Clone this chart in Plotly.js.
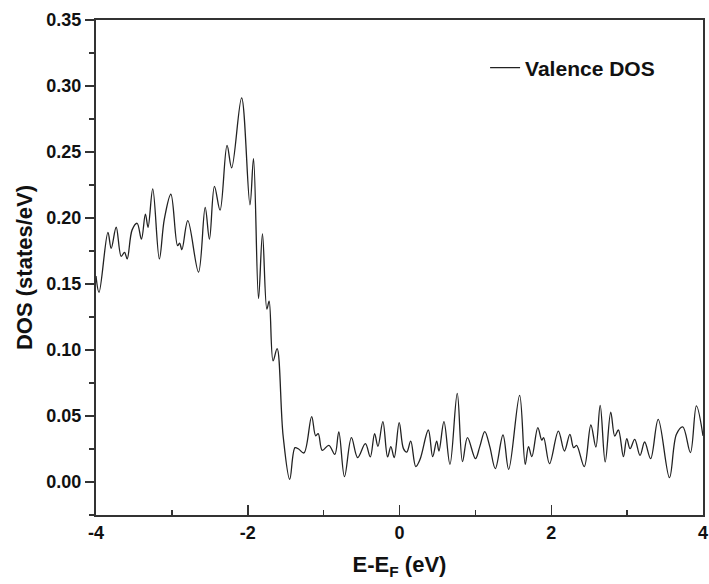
<!DOCTYPE html>
<html>
<head>
<meta charset="utf-8">
<script src="https://cdn.plot.ly/plotly-3.0.1.min.js"></script>
<style>html,body{margin:0;padding:0;background:#fff;}#chart{width:709px;height:584px;}</style>
</head>
<body>
<div id="chart"></div>
<script>
const energy = [-4.0, -3.96, -3.843, -3.80, -3.734, -3.668, -3.624, -3.589, -3.524, -3.458,
  -3.401, -3.349, -3.314, -3.252, -3.165, -3.10, -3.013, -2.925, -2.898, -2.868,
  -2.79, -2.649, -2.561, -2.505, -2.439, -2.365, -2.273, -2.212, -2.081, -1.971,
  -1.924, -1.858, -1.806, -1.748, -1.718, -1.666, -1.613, -1.534, -1.447, -1.377,
  -1.33, -1.259, -1.158, -1.105, -1.071, -1.018, -0.931, -0.852, -0.80, -0.725,
  -0.634, -0.551, -0.45, -0.385, -0.328, -0.284, -0.219, -0.157, -0.114, -0.07,
  -0.004, 0.052, 0.096, 0.148, 0.214, 0.271, 0.38, 0.437, 0.49, 0.52,
  0.586, 0.665, 0.761, 0.83, 0.896, 1.001, 1.058, 1.124, 1.19, 1.263,
  1.364, 1.439, 1.583, 1.657, 1.70, 1.744, 1.823, 1.875, 1.90, 1.977,
  2.094, 2.173, 2.246, 2.295, 2.334, 2.435, 2.522, 2.588, 2.645, 2.711,
  2.784, 2.837, 2.885, 2.951, 2.995, 3.039, 3.10, 3.17, 3.231, 3.31,
  3.41, 3.558, 3.65, 3.734, 3.834, 3.913, 4.0];
const dos = [0.156, 0.1437, 0.189, 0.177, 0.193, 0.171, 0.174, 0.169, 0.191, 0.196,
  0.184, 0.203, 0.193, 0.222, 0.169, 0.199, 0.218, 0.179, 0.181, 0.176,
  0.198, 0.159, 0.208, 0.184, 0.224, 0.206, 0.255, 0.238, 0.291, 0.210,
  0.245, 0.139, 0.188, 0.131, 0.137, 0.0917, 0.101, 0.035, 0.002, 0.026,
  0.025, 0.022, 0.0495, 0.035, 0.0367, 0.024, 0.0278, 0.021, 0.038, 0.004,
  0.0336, 0.0185, 0.029, 0.019, 0.0367, 0.027, 0.0457, 0.019, 0.0268, 0.0185,
  0.045, 0.0253, 0.0227, 0.031, 0.0117, 0.0172, 0.0394, 0.0192, 0.031, 0.0235,
  0.0457, 0.0134, 0.0672, 0.0155, 0.0336, 0.0177, 0.0268, 0.0382, 0.0268, 0.0102,
  0.0356, 0.0096, 0.0657, 0.0134, 0.0268, 0.0192, 0.0412, 0.0318, 0.0336, 0.0139,
  0.0386, 0.0235, 0.0361, 0.026, 0.0278, 0.0117, 0.0432, 0.0265, 0.058, 0.0152,
  0.053, 0.0348, 0.0394, 0.0192, 0.0329, 0.0253, 0.0323, 0.0202, 0.0303, 0.0177,
  0.0475, 0.0033, 0.0361, 0.0417, 0.0223, 0.0576, 0.035];
const xTickVals = [-4, -2, 0, 2, 4];
const xTickText = ["-4", "-2", "0", "2", "4"];
const seriesName = "Valence DOS";

const font = "Liberation Sans, Arial, sans-serif";
const trace = {
  x: energy, y: dos, type: "scatter", mode: "lines", name: seriesName,
  line: {color: "#222", width: 1.3, shape: "spline", smoothing: 1}
};
const layout = {
  width: 709, height: 584,
  margin: {l: 96, r: 6, t: 20, b: 69},
  paper_bgcolor: "#fff", plot_bgcolor: "#fff",
  font: {family: font, color: "#111"},
  showlegend: true,
  legend: {x: 0.641, y: 0.903, xanchor: "left", yanchor: "middle",
    bgcolor: "rgba(0,0,0,0)", font: {family: font, size: 21, color: "#111", weight: "bold"}},
  xaxis: {
    range: [-4, 4], tickvals: xTickVals, ticktext: xTickText,
    ticks: "inside", ticklen: 10, tickwidth: 1.5, tickcolor: "#333",
    ticklabeloverflow: "allow",
    minor: {dtick: 1, ticks: "inside", ticklen: 5, tickwidth: 1.5, tickcolor: "#333", showgrid: false},
    showline: true, linecolor: "#333", linewidth: 2, mirror: true,
    showgrid: false, zeroline: false,
    tickfont: {family: font, size: 18, color: "#111", weight: "bold"},
    title: {text: "E-E<sub>F</sub> (eV)", font: {family: font, size: 22, color: "#111", weight: "bold"}, standoff: 15}
  },
  yaxis: {
    range: [-0.025, 0.35], dtick: 0.05, tick0: 0, tickformat: ".2f",
    ticks: "outside", ticklen: 9, tickwidth: 1.5, tickcolor: "#333",
    minor: {dtick: 0.025, ticks: "outside", ticklen: 5, tickwidth: 1.5, tickcolor: "#333", showgrid: false},
    showline: true, linecolor: "#333", linewidth: 2, mirror: true,
    showgrid: false, zeroline: false,
    tickfont: {family: font, size: 18, color: "#111", weight: "bold"},
    title: {text: "DOS (states/eV)", font: {family: font, size: 22, color: "#111", weight: "bold"}, standoff: 8}
  }
};
Plotly.newPlot("chart", [trace], layout, {staticPlot: true, displayModeBar: false});
</script>
</body>
</html>
